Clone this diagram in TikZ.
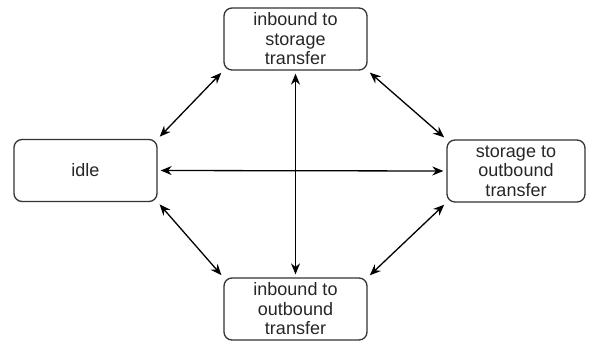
\documentclass[tikz,border=0pt]{standalone}
\usepackage{fontspec}
\setmainfont{Liberation Sans}
\usetikzlibrary{arrows.meta}
\begin{document}
\begin{tikzpicture}[
    x=1pt, y=-1pt,
    state/.style={draw=black!80, line width=1.3pt, rounded corners=8pt, minimum width=#1, minimum height=62pt, align=center, inner sep=0pt, font=\fontsize{18}{19.5}\selectfont, text=black!85},
    state/.default=143pt,
    bidir/.style={{Stealth[length=11pt,width=9pt]}-{Stealth[length=11pt,width=9pt]}, line width=1.3pt, shorten >=3pt, shorten <=3pt}
]
    \useasboundingbox (0,0) rectangle (593,345);
    % States
    \node[state] (inbstore) at (295.5,39) {inbound to\\storage\\transfer};
    \node[state] (idle) at (85.5,170.5) {idle};
    \node[state=138pt] (storeout) at (516,171) {storage to\\outbound\\transfer};
    \node[state] (inbout) at (295.5,309) {inbound to\\outbound\\transfer};

    % Diagonal transitions
    \draw[bidir] (idle.north east) -- (inbstore.south west);
    \draw[bidir] (inbstore.south east) -- (storeout.north west);
    \draw[bidir] (idle.south east) -- (inbout.north west);
    \draw[bidir] (inbout.north east) -- (storeout.south west);

    % Straight transitions
    \draw[bidir] (idle.east) -- (storeout.west);
    \draw[bidir] (inbstore.south) -- (inbout.north);
\end{tikzpicture}
\end{document}
